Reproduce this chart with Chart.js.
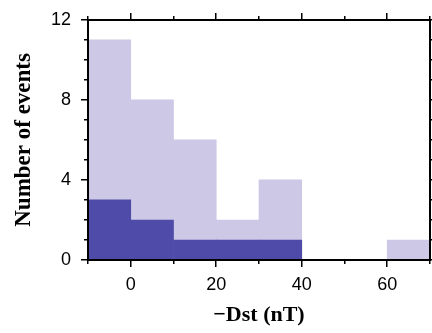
<!DOCTYPE html>
<html>
<head>
<meta charset="utf-8">
<script src="https://cdn.jsdelivr.net/npm/chart.js@4/dist/chart.umd.min.js"></script>
<style>
  html, body { margin: 0; padding: 0; background: #fff; }
</style>
</head>
<body>
<canvas id="hist" width="432" height="333"></canvas>
<script>
// bin centres of -Dst histogram (10 nT bins from -10 to 70)
const binCenters = [-5, 5, 15, 25, 35, 45, 55, 65];
const allEvents = [11, 8, 6, 2, 4, 0, 0, 1];
const subsetEvents = [3, 2, 1, 1, 1, 0, 0, 0];
const xTicks = [0, 20, 40, 60];
const yTicks = [0, 4, 8, 12];

const light = '#cdc8e6';
const dark = '#4e4ca8';

// frame + outward ticks (major long, minor short)
const frameTicks = {
  id: 'frameTicks',
  afterDraw(chart) {
    const ctx = chart.ctx;
    const a = chart.chartArea;
    const x = chart.scales.x;
    const y = chart.scales.y;
    const l = Math.round(a.left), r = Math.round(a.right);
    const t = Math.round(a.top), b = Math.round(a.bottom);
    ctx.save();
    ctx.fillStyle = '#000';
    for (let v = -10; v <= 70; v += 10) {
      const px = Math.round(x.getPixelForValue(v));
      const len = xTicks.includes(v) ? 7 : 4;
      ctx.fillRect(px - 1, b, 1.5, len);
      ctx.fillRect(px - 1, t - len, 1.5, len);
    }
    for (let v = 0; v <= 12; v += 1) {
      const py = Math.round(y.getPixelForValue(v));
      const len = yTicks.includes(v) ? 7 : 4;
      ctx.fillRect(l - len, py - 1, len, 1.5);
      ctx.fillRect(r, py - 1, len, 1.5);
    }
    // box
    ctx.fillRect(l - 1, t - 1, r - l + 2, 2);
    ctx.fillRect(l - 1, b - 1, r - l + 2, 2);
    ctx.fillRect(l - 1, t - 1, 2, b - t + 2);
    ctx.fillRect(r - 1, t - 1, 2, b - t + 2);
    ctx.restore();
  }
};

new Chart(document.getElementById('hist'), {
  type: 'bar',
  data: {
    datasets: [
      {
        label: 'subset',
        data: binCenters.map((c, i) => ({ x: c, y: subsetEvents[i] })),
        backgroundColor: dark,
        barPercentage: 1,
        categoryPercentage: 1,
        grouped: false,
      },
      {
        label: 'all',
        data: binCenters.map((c, i) => ({ x: c, y: allEvents[i] })),
        backgroundColor: light,
        barPercentage: 1,
        categoryPercentage: 1,
        grouped: false,
      }
    ]
  },
  plugins: [frameTicks],
  options: {
    responsive: false,
    animation: false,
    layout: { padding: { top: 17, right: 2 } },
    plugins: { legend: { display: false }, tooltip: { enabled: false } },
    scales: {
      x: {
        type: 'linear',
        offset: false,
        min: -10,
        max: 70,
        afterBuildTicks: s => { s.ticks = xTicks.map(v => ({ value: v })); },
        afterFit: s => { s.height = 73; },
        grid: { display: false },
        border: { display: false },
        ticks: { color: '#000', font: { family: 'Liberation Sans', size: 18 }, padding: 6 },
        title: {
          display: true,
          text: '−Dst (nT)',
          color: '#000',
          font: { family: 'Liberation Serif', size: 22, weight: 'bold' },
          padding: { top: 12 }
        }
      },
      y: {
        min: 0,
        max: 12,
        afterBuildTicks: s => { s.ticks = yTicks.map(v => ({ value: v })); },
        afterFit: s => { s.width = 88; },
        grid: { display: false },
        border: { display: false },
        ticks: { color: '#000', font: { family: 'Liberation Sans', size: 18 }, padding: 9 },
        title: {
          display: true,
          text: 'Number of events',
          color: '#000',
          font: { family: 'Liberation Serif', size: 23, weight: 'bold' },
          padding: { top: 10, bottom: 0 }
        }
      }
    }
  }
});
</script>
</body>
</html>
